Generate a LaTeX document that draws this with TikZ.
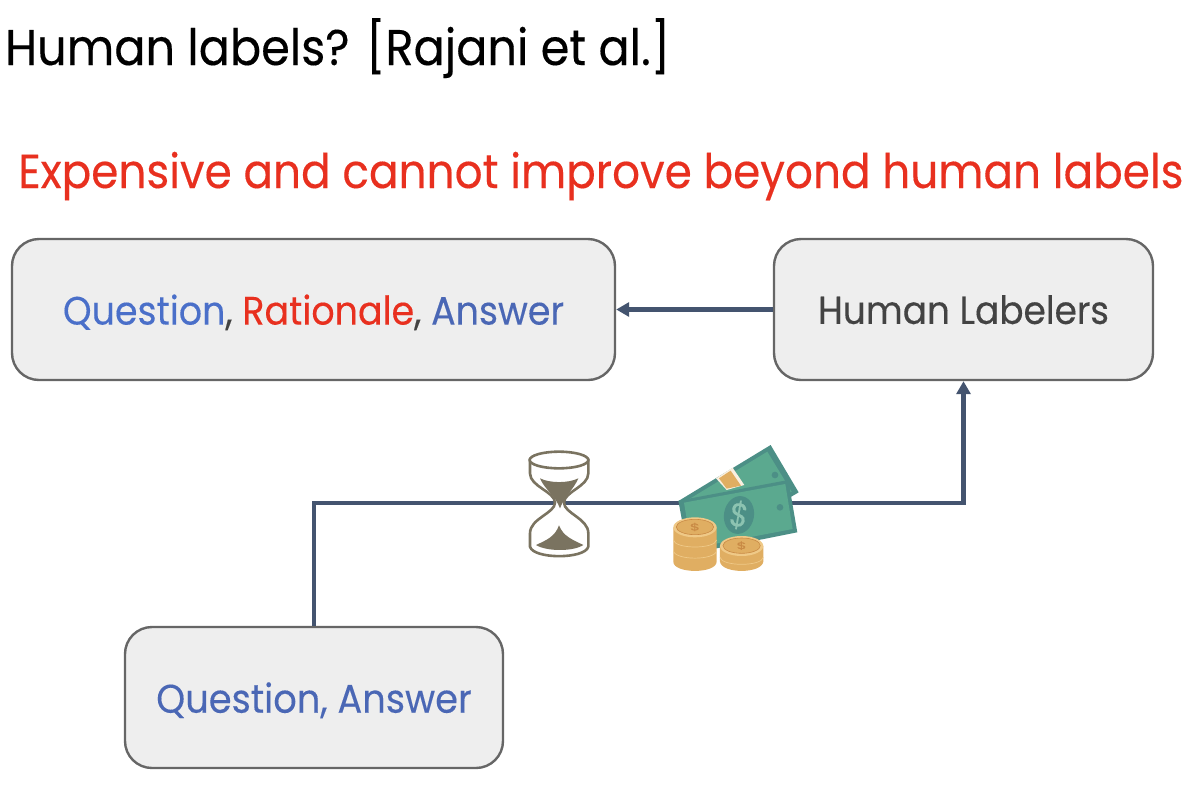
\documentclass[tikz,border=0pt]{standalone}
\usepackage{fontspec}
\setmainfont{Poppins}[FakeStretch=0.92,FakeBold=0.25]
\usetikzlibrary{arrows.meta}
\definecolor{boxfill}{HTML}{EEEEEE}
\definecolor{boxline}{HTML}{666666}
\definecolor{conn}{HTML}{44546F}
\definecolor{qblue}{HTML}{4A6FC9}
\definecolor{ablue}{HTML}{4A67B5}
\definecolor{redt}{HTML}{E8301F}
\definecolor{darkt}{HTML}{434343}
\definecolor{glass}{HTML}{7A7360}
\definecolor{billa}{HTML}{5BA98F}
\definecolor{billb}{HTML}{4C8F86}
\definecolor{coin}{HTML}{E0AE62}
\definecolor{coind}{HTML}{C98A45}
\definecolor{coinl}{HTML}{EFC987}
\tikzset{
  panel/.style={draw=boxline,fill=boxfill,line width=2.4pt,rounded corners=27pt,minimum height=141pt,inner sep=0pt,text depth=0pt},
  link/.style={draw=conn,line width=4.6pt,-{Triangle[length=13pt,width=14pt]}},
  plain/.style={inner sep=0pt,anchor=base west}
}
\begin{document}
\begin{tikzpicture}[x=1pt,y=-1pt]
\useasboundingbox (0,0) rectangle (1200,788);
\node[plain,font=\fontsize{50.2}{60}\selectfont] (title) at (5,65) {Human labels? [Rajani et al.]};
\node[plain,font=\fontsize{47.6}{56}\selectfont,text=redt] (sub) at (18,188) {Expensive and cannot improve beyond human labels};
\node[panel,minimum width=603pt,text=darkt,font=\fontsize{39.6}{46}\selectfont] (qra) at (313.5,309.5) {\textcolor{qblue}{Question}, \textcolor{redt}{Rationale}, \textcolor{ablue}{Answer}};
\node[panel,minimum width=379pt,text=darkt,font=\fontsize{39}{46}\selectfont] (hl) at (963.5,309.5) {Human Labelers};
\node[panel,minimum width=378pt,text=ablue,font=\fontsize{40}{46}\selectfont] (qa) at (314,697.5) {Question, Answer};
\coordinate (elbow) at (640,503);
\draw[link] (hl.west) -- (qra.east);
\draw[link] (qa.north) |- (elbow) -| (hl.south);
% hourglass
\begin{scope}[shift={(510,430)},x=0.3333pt,y=-0.3333pt]
\filldraw[fill=white,draw=glass,line width=2.6pt]
  (60,90) -- (60,130) .. controls (60,170) and (135,185) .. (135,218)
  .. controls (135,250) and (60,265) .. (60,310) -- (60,350)
  .. controls (70,388) and (225,388) .. (235,350) -- (235,310)
  .. controls (235,265) and (162,250) .. (162,218)
  .. controls (162,185) and (235,170) .. (235,130) -- (235,90) -- cycle;
\filldraw[fill=white,draw=glass,line width=2.6pt] (147,90) ellipse [x radius=88,y radius=25];
\fill[glass] (90,145) .. controls (120,160) and (175,160) .. (205,145)
  .. controls (190,180) and (165,195) .. (150,235) .. controls (135,195) and (105,180) .. (90,145) -- cycle;
\fill[glass] (78,345) .. controls (110,330) and (135,320) .. (147,286)
  .. controls (160,320) and (190,330) .. (220,345) .. controls (190,365) and (110,365) .. (78,345) -- cycle;
% money
\fill[billb] (507,212) -- (782,45) -- (866,187) -- (600,345) -- cycle;
\fill[billa] (530,212) -- (772,65) -- (845,185) -- (610,325) -- cycle;
\fill[white!80!coin] (618,145) -- (668,113) -- (703,165) -- (650,180) -- cycle;
\fill[coin] (627,145) -- (662,122) -- (693,167) -- (650,176) -- cycle;
\fill[billb] (795,135) circle (10);
\fill[billb] (505,212) -- (835,150) -- (862,307) -- (535,372) -- cycle;
\fill[billa] (522,218) -- (826,162) -- (848,297) -- (545,355) -- cycle;
\fill[billb] (810,232) circle (10);
\fill[billb,rotate around={-10:(687,255)}] (687,255) ellipse [x radius=45,y radius=57];
\node[inner sep=0pt,text=billa!70!white,font=\fontsize{33}{33}\selectfont,rotate=-10] (d0) at (687,255) {\$};
% coins
\fill[coin] (490,292) -- (490,395) .. controls (490,432) and (620,432) .. (620,395) -- (620,292) -- cycle;
\draw[coinl,line width=0.7pt] (490,330) .. controls (495,358) and (615,358) .. (620,330);
\draw[coinl,line width=0.7pt] (490,362) .. controls (495,392) and (615,392) .. (620,362);
\fill[coinl] (555,292) ellipse [x radius=65,y radius=30];
\draw[coind,line width=0.6pt,fill=coin] (555,291) ellipse [x radius=56,y radius=23];
\node[inner sep=0pt,text=coind,font=\fontsize{12}{12}\selectfont,xscale=1.5,yscale=0.8] (d1) at (555,291) {\$};
\fill[coin] (630,348) -- (630,395) .. controls (635,432) and (755,432) .. (760,395) -- (760,348) -- cycle;
\draw[coinl,line width=0.7pt] (630,382) .. controls (635,410) and (755,410) .. (760,382);
\fill[coinl] (695,348) ellipse [x radius=65,y radius=30];
\draw[coind,line width=0.6pt,fill=coin] (695,347) ellipse [x radius=56,y radius=23];
\node[inner sep=0pt,text=coind,font=\fontsize{12}{12}\selectfont,xscale=1.5,yscale=0.8] (d2) at (695,347) {\$};
\end{scope}
\end{tikzpicture}
\end{document}
